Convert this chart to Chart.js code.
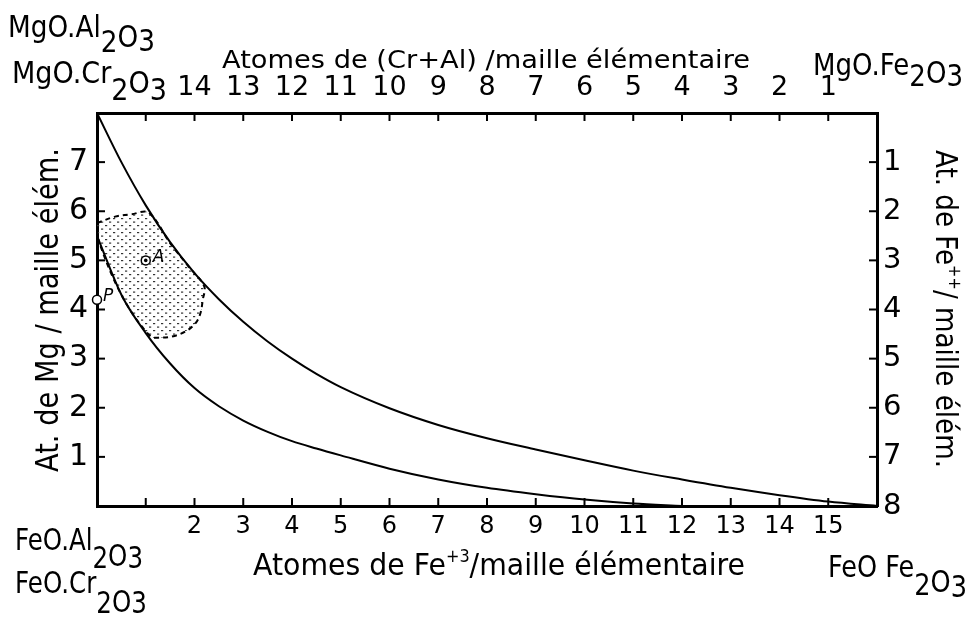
<!DOCTYPE html>
<html>
<head>
<meta charset="utf-8">
<script src="https://cdn.jsdelivr.net/npm/chart.js@4.4.1/dist/chart.umd.min.js"></script>
<style>
html,body{margin:0;padding:0;background:#fff;}
#wrap{width:970px;height:618px;position:relative;}
</style>
</head>
<body>
<div id="wrap"><canvas id="c"></canvas></div>
<script>
// ---- data ----
const upperFe = [0, 0.5, 1, 1.5, 2, 2.5, 3, 3.5, 4, 4.5, 5, 6, 7, 8, 9, 10, 11, 12, 13, 14, 15, 16];
const upperMg = [8, 7.0, 6.12, 5.37, 4.74, 4.21, 3.75, 3.35, 3.0, 2.69, 2.42, 1.99, 1.65, 1.38, 1.15, 0.93, 0.72, 0.54, 0.37, 0.22, 0.09, 0];
const lowerFe = [0, 0.5, 1, 1.5, 2, 2.5, 3, 3.5, 4, 4.5, 5, 6, 7, 8, 9, 10, 11, 12];
const lowerMg = [5.5, 4.3, 3.52, 2.9, 2.4, 2.03, 1.74, 1.51, 1.32, 1.17, 1.03, 0.76, 0.54, 0.37, 0.24, 0.13, 0.05, 0];
const regionFe = [0, 0.37, 0.71, 1.06, 1.5, 1.9, 2.2, 2.17, 2.12, 2.02, 1.81, 1.54, 1.33, 1.09, 0.5, 0, 0];
const regionMg = [5.76, 5.89, 5.94, 5.97, 5.35, 4.85, 4.47, 4.2, 3.92, 3.72, 3.55, 3.45, 3.43, 3.46, 4.3, 5.5, 5.76];
const pointA = {label: 'A', fe: 1.0, mg: 5.0};
const pointP = {label: 'P', fe: 0, mg: 4.2};
const feTickLabels = [2,3,4,5,6,7,8,9,10,11,12,13,14,15];       // bottom
const crAlTickLabels = [1,2,3,4,5,6,7,8,9,10,11,12,13,14];      // top (16 - Fe)
const mgTickLabels = [1,2,3,4,5,6,7];                           // left
const fe2TickLabels = [1,2,3,4,5,6,7,8];                        // right (8 - Mg)
const topTitle = 'Atomes de (Cr+Al) /maille élémentaire';
const bottomTitle = ['Atomes de Fe', '+3', '/maille élémentaire'];
const leftTitle = 'At. de Mg / maille élém.';
const rightTitle = ['At. de Fe', '++', '/ maille élém.'];

const toXY = (xs, ys) => xs.map((x, i) => ({x: x, y: ys[i]}));

// dotted pattern for the shaded field
const pc = document.createElement('canvas');
pc.width = 8; pc.height = 7;
const pctx = pc.getContext('2d');
pctx.fillStyle = '#333';
pctx.fillRect(1, 1, 2.2, 1.2);
pctx.fillRect(5, 4.5, 2.2, 1.2);
const ctx0 = document.getElementById('c').getContext('2d');
const dotPattern = ctx0.createPattern(pc, 'repeat');

const FONT = "'DejaVu Sans', sans-serif";

function drawRich(ctx, x, y, parts, targetW, angle) {
  ctx.save();
  ctx.translate(x, y);
  if (angle) ctx.rotate(angle);
  let total = 0;
  parts.forEach(p => { ctx.font = (p.italic ? 'italic ' : '') + p.size + 'px ' + FONT; total += ctx.measureText(p.t).width; });
  const s = targetW ? targetW / total : 1;
  ctx.scale(s, 1);
  let cx = 0;
  ctx.fillStyle = '#000';
  ctx.textBaseline = 'alphabetic';
  ctx.textAlign = 'left';
  parts.forEach(p => {
    ctx.font = (p.italic ? 'italic ' : '') + p.size + 'px ' + FONT;
    ctx.fillText(p.t, cx, p.dy || 0);
    cx += ctx.measureText(p.t).width;
  });
  ctx.restore();
}

function chem(main, d2, dO, d3, size) {
  return [{t: main, size: size}, {t: '2', size: size, dy: d2}, {t: 'O', size: size, dy: dO}, {t: '3', size: size, dy: d3}];
}

const decorPlugin = {
  id: 'decor',
  afterDraw(chart) {
    const ctx = chart.ctx;
    const sx = chart.scales.x, sy = chart.scales.y;
    const a = chart.chartArea;
    // inward tick marks
    ctx.save();
    ctx.strokeStyle = '#000';
    ctx.lineWidth = 2;
    const L = 8;
    for (let v = 1; v <= 15; v++) {
      const px = sx.getPixelForValue(v);
      ctx.beginPath(); ctx.moveTo(px, a.bottom); ctx.lineTo(px, a.bottom - L); ctx.stroke();
      ctx.beginPath(); ctx.moveTo(px, a.top); ctx.lineTo(px, a.top + L); ctx.stroke();
    }
    for (let v = 1; v <= 7; v++) {
      const py = sy.getPixelForValue(v);
      ctx.beginPath(); ctx.moveTo(a.left, py); ctx.lineTo(a.left + L, py); ctx.stroke();
      ctx.beginPath(); ctx.moveTo(a.right, py); ctx.lineTo(a.right - L, py); ctx.stroke();
    }
    ctx.restore();

    // point labels
    drawRich(ctx, sx.getPixelForValue(pointA.fe) + 7, sy.getPixelForValue(pointA.mg) + 2, [{t: pointA.label, size: 17, italic: true}]);
    drawRich(ctx, sx.getPixelForValue(pointP.fe) + 6, sy.getPixelForValue(pointP.mg) + 1, [{t: pointP.label, size: 17, italic: true}]);

    // axis titles
    drawRich(ctx, 222, 68, [{t: topTitle, size: 25}], 528);
    drawRich(ctx, 253, 575, [{t: bottomTitle[0], size: 30}, {t: bottomTitle[1], size: 17, dy: -13}, {t: bottomTitle[2], size: 30}], 492);
    drawRich(ctx, 58, 472, [{t: leftTitle, size: 32}], 324, -Math.PI / 2);
    drawRich(ctx, 936, 150, [{t: rightTitle[0], size: 30}, {t: rightTitle[1], size: 17, dy: -13}, {t: rightTitle[2], size: 30}], 318, Math.PI / 2);

    // corner compound labels
    drawRich(ctx, 8, 37, chem('MgO.Al', 15, 10, 14, 31), 147);
    drawRich(ctx, 12, 83, chem('MgO.Cr', 17, 10, 17, 31), 155);
    drawRich(ctx, 813, 75, chem('MgO.Fe', 11, 8, 11, 31), 150);
    drawRich(ctx, 15, 550, chem('FeO.Al', 18, 16, 18, 31), 128);
    drawRich(ctx, 15, 593, chem('FeO.Cr', 20, 19, 20, 31), 132);
    drawRich(ctx, 828, 577, chem('FeO Fe', 18, 15, 20, 31), 139);
  }
};

const axisCommon = {
  type: 'linear',
  grid: {display: true, drawOnChartArea: false, drawTicks: false, color: 'rgba(0,0,0,0)'},
  border: {display: true, color: '#000', width: 3},
};

new Chart(document.getElementById('c'), {
  type: 'scatter',
  data: {
    datasets: [
      {label: 'A', data: [{x: pointA.fe, y: pointA.mg}], pointRadius: 4.5, pointBackgroundColor: '#fff', pointBorderColor: '#000', pointBorderWidth: 1.5, order: 0},
      {label: 'A centre', data: [{x: pointA.fe, y: pointA.mg}], pointRadius: 1.8, pointBackgroundColor: '#000', pointBorderColor: '#000', pointBorderWidth: 0, order: -1},
      {label: 'P', data: [{x: pointP.fe, y: pointP.mg}], pointRadius: 4.5, pointBackgroundColor: '#fff', pointBorderColor: '#000', pointBorderWidth: 1.5, order: 0, clip: false},
      {label: 'upper', type: 'line', data: toXY(upperFe, upperMg), showLine: true, borderColor: '#000', borderWidth: 2, pointRadius: 0, cubicInterpolationMode: 'monotone', fill: false, order: 1},
      {label: 'lower', type: 'line', data: toXY(lowerFe, lowerMg), showLine: true, borderColor: '#000', borderWidth: 2, pointRadius: 0, cubicInterpolationMode: 'monotone', fill: false, order: 1},
      {label: 'field', type: 'line', data: toXY(regionFe, regionMg), showLine: true, borderColor: '#000', borderWidth: 2, borderDash: [5, 4], pointRadius: 0, tension: 0.35, fill: 'shape', backgroundColor: dotPattern, order: 3}
    ]
  },
  options: {
    responsive: true,
    maintainAspectRatio: false,
    animation: false,
    events: [],
    layout: {padding: 0},
    plugins: {legend: {display: false}, tooltip: {enabled: false}},
    scales: {
      x: Object.assign({}, axisCommon, {
        position: 'bottom', min: 0, max: 16,
        afterBuildTicks: s => { s.ticks = feTickLabels.map(v => ({value: v})); },
        ticks: {autoSkip: false, maxRotation: 0, color: '#000', padding: 6, font: {family: FONT, size: 24}},
        afterFit: s => { s.height = 112; }
      }),
      x2: Object.assign({}, axisCommon, {
        position: 'top', min: 0, max: 16, reverse: true,
        afterBuildTicks: s => { s.ticks = crAlTickLabels.map(v => ({value: v})); },
        ticks: {autoSkip: false, maxRotation: 0, color: '#000', padding: 9, font: {family: FONT, size: 27}},
        afterFit: s => { s.height = 113; }
      }),
      y: Object.assign({}, axisCommon, {
        position: 'left', min: 0, max: 8,
        afterBuildTicks: s => { s.ticks = mgTickLabels.map(v => ({value: v})); },
        ticks: {autoSkip: false, color: '#000', padding: 9, font: {family: FONT, size: 30}},
        afterFit: s => { s.width = 97; }
      }),
      y2: Object.assign({}, axisCommon, {
        position: 'right', min: 0, max: 8, reverse: true,
        afterBuildTicks: s => { s.ticks = fe2TickLabels.map(v => ({value: v})); },
        ticks: {autoSkip: false, color: '#000', padding: 6, font: {family: FONT, size: 29}},
        afterFit: s => { s.width = 93; }
      })
    }
  },
  plugins: [decorPlugin]
});
</script>
</body>
</html>
